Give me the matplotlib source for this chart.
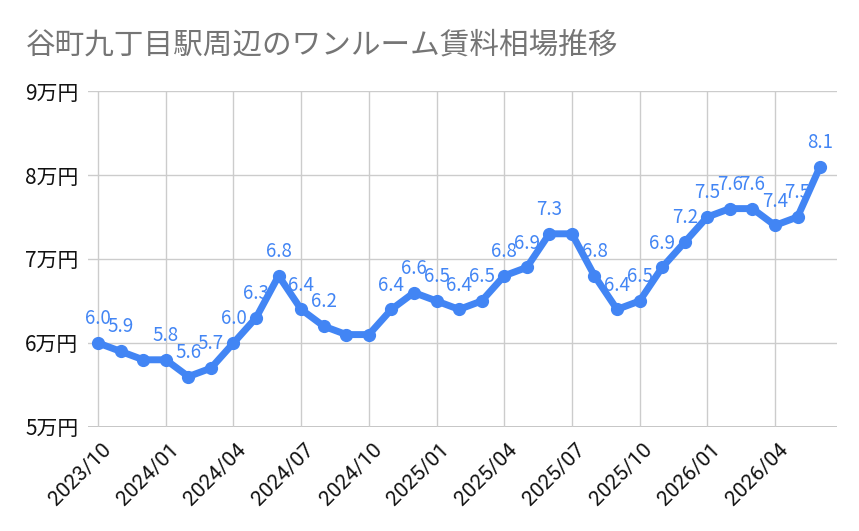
import matplotlib
matplotlib.use("Agg")
import matplotlib.pyplot as plt
import matplotlib.transforms as mtransforms

plt.rcParams['font.family'] = ['Noto Sans CJK JP', 'DejaVu Sans']

# monthly rent (万円), 2023/10 .. 2026/06
months = ['2023/10', '2023/11', '2023/12', '2024/01', '2024/02', '2024/03',
          '2024/04', '2024/05', '2024/06', '2024/07', '2024/08', '2024/09',
          '2024/10', '2024/11', '2024/12', '2025/01', '2025/02', '2025/03',
          '2025/04', '2025/05', '2025/06', '2025/07', '2025/08', '2025/09',
          '2025/10', '2025/11', '2025/12', '2026/01', '2026/02', '2026/03',
          '2026/04', '2026/05', '2026/06']
rent = [6.0, 5.9, 5.8, 5.8, 5.6, 5.7, 6.0, 6.3, 6.8, 6.4, 6.2, 6.1,
        6.1, 6.4, 6.6, 6.5, 6.4, 6.5, 6.8, 6.9, 7.3, 7.3, 6.8, 6.4,
        6.5, 6.9, 7.2, 7.5, 7.6, 7.6, 7.4, 7.5, 8.1]
# labels the original chart hides because they overlap
hidden = {2, 11, 12, 21}
yticks = [5, 6, 7, 8, 9]
ytick_labels = ['5万円', '6万円', '7万円', '8万円', '9万円']

blue = '#4285F4'

fig = plt.figure(figsize=(8.59, 5.31), dpi=100)
ax = fig.add_axes([0.1024, 0.1959, 0.8720, 0.6327])

x = list(range(len(rent)))
ax.plot(x, rent, color=blue, lw=5, marker='o', ms=8.5, zorder=3,
        solid_joinstyle='round', solid_capstyle='round')

for i, v in enumerate(rent):
    if i in hidden:
        continue
    ax.annotate(f'{v:.1f}', (i, v), xytext=(0, 10), textcoords='offset points',
                ha='center', va='bottom', color=blue, fontsize=13.5, zorder=4)

ax.set_ylim(5, 9)
ax.set_xlim(-0.45, len(rent) - 0.25)
ax.set_yticks(yticks)
ax.set_yticklabels(ytick_labels, fontsize=15, color='#111111')
ax.set_xticks(x[::3])
ax.set_xticklabels(months[::3], rotation=45, ha='right', va='center',
                   rotation_mode='anchor', fontsize=15,
                   family=['Roboto', 'DejaVu Sans'], color='#111111')
ax.tick_params(axis='y', length=0, pad=7)
ax.tick_params(axis='x', length=0, pad=14)
shift = mtransforms.ScaledTranslation(10 / 100, 0, fig.dpi_scale_trans)
for lab in ax.get_xticklabels():
    lab.set_transform(lab.get_transform() + shift)
ax.grid(True, color='#cccccc', lw=1)
for s in ax.spines.values():
    s.set_visible(False)
ax.axhline(5, color='#bbbbbb', lw=1.2, zorder=1)

fig.text(0.030, 0.915, '谷町九丁目駅周辺のワンルーム賃料相場推移', fontsize=21.3,
         color='#757575', va='center', ha='left')

fig.savefig('out.png', dpi=100)
